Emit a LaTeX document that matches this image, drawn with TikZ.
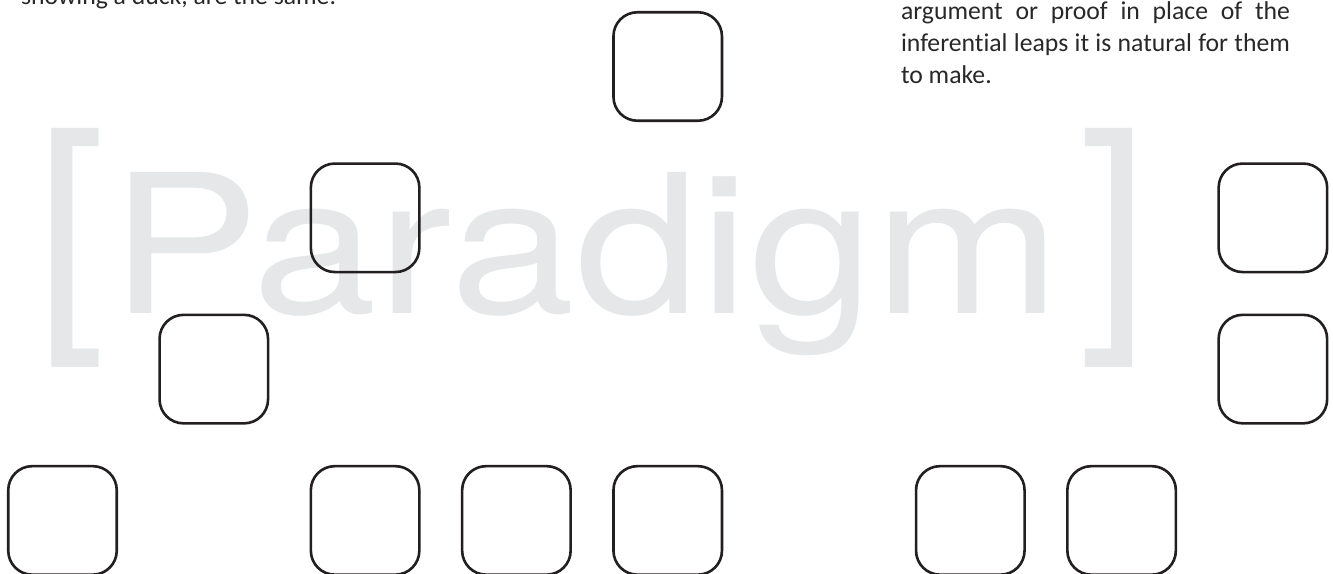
\documentclass[tikz,border=0pt]{standalone}
\usepackage{fontspec}
\setmainfont{Carlito}[Ligatures={NoCommon}]
\newfontfamily\wmfont{TeX Gyre Heros}
\usetikzlibrary{positioning}
\definecolor{wmgray}{RGB}{230,231,232}
\definecolor{inkgray}{RGB}{40,40,40}
\definecolor{tileink}{RGB}{35,31,32}
\tikzset{
  tile/.style ={rectangle,draw=tileink,line width=2.6pt,rounded corners=24pt,
                minimum size=108.5pt,inner sep=0pt},
  wm/.style   ={text=wmgray,inner sep=0pt,outer sep=0pt,anchor=base west},
  ann/.style  ={text=inkgray,inner sep=0pt,outer sep=0pt,anchor=base west,
                font=\fontsize{25.7}{32}\selectfont},
}

\begin{document}
\begin{tikzpicture}[x=1pt, y=-1pt]
\useasboundingbox[fill=white] (0,0) rectangle (1333,573);

%% ---------------- watermark ----------------
\node[wm,font=\wmfont\fontsize{254}{254}\selectfont] (brl) at (35,313) {[};
\node[wm,font=\wmfont\fontsize{193.6}{194}\selectfont] (word) at (110,313)
  {\scalebox{1.157}[1]{Paradigm}};
\node[wm,font=\wmfont\fontsize{254}{254}\selectfont] (brr) at (1079,313) {]};

%% ---------------- running text ----------------
%% base of a multi-line node sits on its last line
\node[ann] (lead) at (21,4) {showing a duck, are the same.};
\node[ann,align=left] (quote) at (901,83)
  {\makebox[389pt][s]{argument or proof in place of the}\\
   \makebox[389pt][s]{inferential leaps it is natural for them}\\
   to make.};

%% ---------------- tiles ----------------
%% one grid, pitch 151.3, tiles left open
\node[tile] (t40) at ( 667.7,  66.5) {};
\node[tile] (t21) at ( 365.1, 217.8) {};
\node[tile] (t81) at (1272.9, 217.8) {};
\node[tile] (t12) at ( 213.8, 369.1) {};
\node[tile] (t82) at (1272.9, 369.1) {};
\node[tile] (t03) at (  62.5, 520.4) {};
\node[tile] (t23) at ( 365.1, 520.4) {};
\node[tile] (t33) at ( 516.4, 520.4) {};
\node[tile] (t43) at ( 667.7, 520.4) {};
\node[tile] (t63) at ( 970.3, 520.4) {};
\node[tile] (t73) at (1121.6, 520.4) {};

\end{tikzpicture}
\end{document}
